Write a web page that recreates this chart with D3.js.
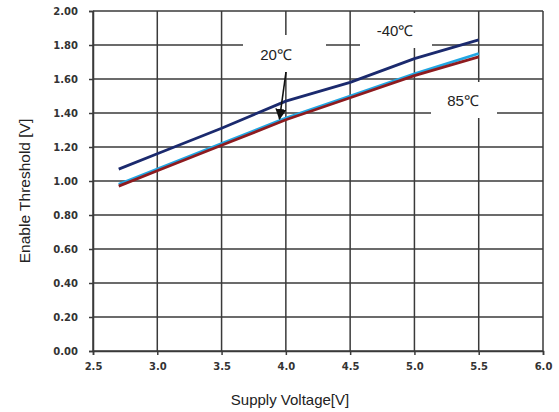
<!DOCTYPE html>
<html><head><meta charset="utf-8">
<script src="https://cdn.jsdelivr.net/npm/d3@7"></script>
<style>body{margin:0;background:#fff}svg{display:block}</style>
</head><body>
<script>
const supplyV = [2.7, 3.0, 3.5, 4.0, 4.5, 5.0, 5.5];
const tM40 = [1.07, 1.16, 1.31, 1.47, 1.58, 1.72, 1.83];
const t20 = [0.98, 1.07, 1.22, 1.37, 1.50, 1.63, 1.75];
const t85 = [0.97, 1.06, 1.21, 1.36, 1.49, 1.62, 1.73];
const xTicks = [2.5, 3.0, 3.5, 4.0, 4.5, 5.0, 5.5, 6.0];
const yTicks = [0, 0.2, 0.4, 0.6, 0.8, 1.0, 1.2, 1.4, 1.6, 1.8, 2.0];
const seriesNames = ["-40℃", "20℃", "85℃"];
const seriesColors = ["#1b2a6e", "#22a7e3", "#8e1b1f"];

const W = 559, H = 412;
const m = {l: 93, r: 16, t: 11, b: 61};
const svg = d3.select("body").append("svg").attr("width", W).attr("height", H);
const x = d3.scaleLinear().domain([2.5, 6.0]).range([m.l, W - m.r]);
const y = d3.scaleLinear().domain([0, 2.0]).range([H - m.b, m.t]);
const gridCol = "#3a3a3a";

// grid
svg.append("g").selectAll("line").data(yTicks).join("line")
  .attr("x1", m.l).attr("x2", W - m.r).attr("y1", d => y(d)).attr("y2", d => y(d))
  .attr("stroke", gridCol).attr("stroke-width", 1.5);
svg.append("g").selectAll("line").data(xTicks).join("line")
  .attr("y1", m.t).attr("y2", H - m.b).attr("x1", d => x(d)).attr("x2", d => x(d))
  .attr("stroke", gridCol).attr("stroke-width", 1.5);

// axes
const yAxis = svg.append("g").attr("transform", `translate(${m.l},0)`)
  .call(d3.axisLeft(y).tickValues(yTicks).tickFormat(d3.format(".2f")).tickSize(4).tickPadding(11));
const xAxis = svg.append("g").attr("transform", `translate(0,${H - m.b})`)
  .call(d3.axisBottom(x).tickValues(xTicks).tickFormat(d3.format(".1f")).tickSize(4).tickPadding(8));
[yAxis, xAxis].forEach(g => {
  g.select(".domain").attr("stroke", gridCol).attr("stroke-width", 1.5);
  g.selectAll(".tick line").attr("stroke", gridCol).attr("stroke-width", 1.5);
  g.selectAll("text").attr("font-family", "DejaVu Sans").attr("font-weight", "bold")
    .attr("font-size", 10).attr("fill", "#333");
});

// label boxes (white) over grid
function whiteBox(x0, y0, x1, y1) {
  svg.append("rect").attr("x", x0).attr("y", y0).attr("width", x1 - x0).attr("height", y1 - y0).attr("fill", "#fff");
}
whiteBox(243, 35, 326, 72);
whiteBox(360, 13, 432, 48);
whiteBox(431, 82, 497, 118);

// lines
const line = d3.line().x((d, i) => x(supplyV[i])).y(d => y(d));
[tM40, t20, t85].forEach((s, k) => {
  svg.append("path").attr("d", line(s)).attr("fill", "none")
    .attr("stroke", seriesColors[k]).attr("stroke-width", 2.8).attr("stroke-linejoin", "round");
});

// labels
const lf = "Liberation Sans";
svg.append("text").attr("x", 276).attr("y", 60).attr("text-anchor", "middle")
  .attr("font-family", lf).attr("font-size", 15).attr("fill", "#222").text(seriesNames[1]);
svg.append("text").attr("x", 395).attr("y", 36).attr("text-anchor", "middle")
  .attr("font-family", lf).attr("font-size", 15).attr("fill", "#222").text(seriesNames[0]);
svg.append("text").attr("x", 463).attr("y", 106).attr("text-anchor", "middle")
  .attr("font-family", lf).attr("font-size", 15).attr("fill", "#222").text(seriesNames[2]);

// arrow
svg.append("defs").append("marker").attr("id", "ah").attr("viewBox", "0 0 10 10")
  .attr("refX", 9).attr("refY", 5).attr("markerWidth", 7).attr("markerHeight", 7)
  .attr("orient", "auto").attr("markerUnits", "strokeWidth")
  .append("path").attr("d", "M0,0 L10,5 L0,10 z").attr("fill", "#111");
svg.append("line").attr("x1", 286).attr("y1", 72).attr("x2", 279.5).attr("y2", 119)
  .attr("stroke", "#111").attr("stroke-width", 1.6).attr("marker-end", "url(#ah)");

// axis titles
svg.append("text").attr("x", 290).attr("y", 405).attr("text-anchor", "middle")
  .attr("font-family", lf).attr("font-size", 15).attr("fill", "#222").text("Supply Voltage[V]");
svg.append("text").attr("transform", "translate(30,191) rotate(-90)").attr("text-anchor", "middle")
  .attr("font-family", lf).attr("font-size", 15.5).attr("fill", "#222").text("Enable Threshold [V]");
</script>
</body></html>
